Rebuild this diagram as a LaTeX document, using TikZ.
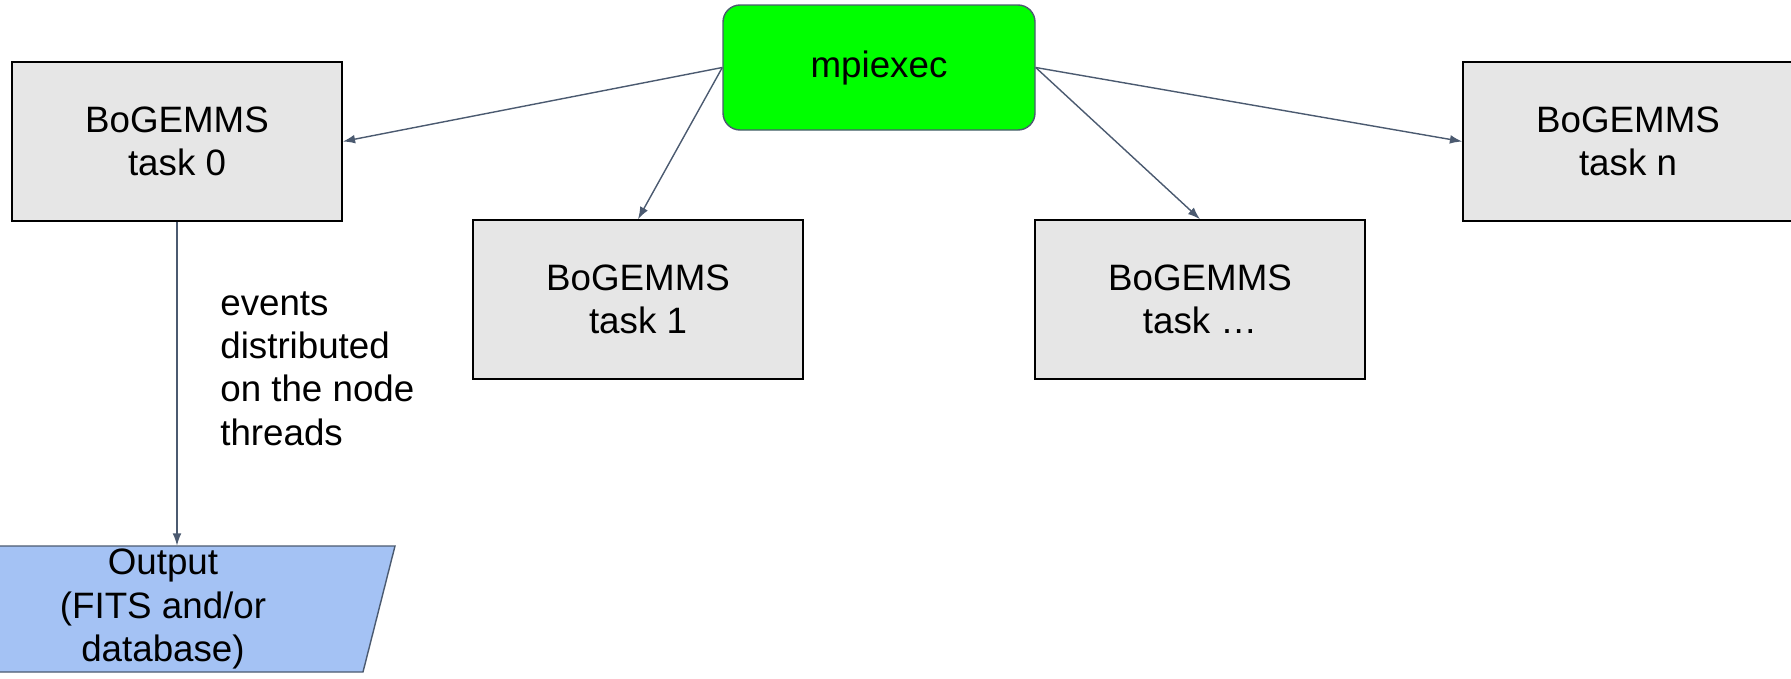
\documentclass[tikz,border=0pt]{standalone}
\usepackage{fontspec}
\setmainfont{Liberation Sans}
\usepackage{tikz}
\usetikzlibrary{positioning, arrows.meta, calc}

\definecolor{taskGray}{HTML}{E6E6E6}
\definecolor{mpiGreen}{HTML}{00FF00}
\definecolor{outBlue}{HTML}{A4C2F4}
\definecolor{lineSlate}{HTML}{4B5A70}

\tikzset{
	taskbox/.style={draw=black, line width=0.9pt, fill=taskGray, minimum width=6.6cm, minimum height=3.18cm, align=center, inner sep=0pt},
	launcher/.style={draw=lineSlate, line width=0.8pt, fill=mpiGreen, rounded corners=0.34cm, minimum width=6.24cm, minimum height=2.5cm, inner sep=0pt},
	outfile/.style={draw=lineSlate, line width=0.8pt, fill=outBlue},
	spawn/.style={draw=lineSlate, line width=0.8pt, -{Latex[length=7pt,width=5pt]}}
}

\begin{document}
\begin{tikzpicture}[font=\fontsize{20.9}{24.5}\selectfont]
		
		%Frame of the picture
		\useasboundingbox (0,0) rectangle (35.82,-13.56);
		\clip (0,0) rectangle (35.82,-13.56);
		
		%The launcher
		\node (mpiexec) at (17.58,-1.35) [launcher]{mpiexec};
		
		%The tasks
		\node (task0) at (3.54,-2.83) [taskbox]{BoGEMMS\\task 0};
		\node (task1) at (12.76,-5.99) [taskbox]{BoGEMMS\\task 1};
		\node (taskdots) at (24.0,-5.99) [taskbox]{BoGEMMS\\task \ldots};
		\node (taskn) at (32.56,-2.83) [taskbox]{BoGEMMS\\task n};
		
		%Output file (slanted, cut by the left border)
		\draw[outfile] (-0.74,-10.92) -- (7.9,-10.92) -- (7.26,-13.44) -- (-1.38,-13.44) -- cycle;
		\node (output) at (3.26,-12.18) [minimum height=2.52cm, inner sep=0pt, align=center]{Output\\(FITS and/or\\database)};
		
		%Arrows from mpiexec
		\draw[spawn] (mpiexec.west) -- (task0.east);
		\draw[spawn] (mpiexec.west) -- (task1.north);
		\draw[spawn] (mpiexec.east) -- (taskdots.north);
		\draw[spawn] (mpiexec.east) -- (taskn.west);
		
		%Arrow to the output
		\draw[spawn] (task0.south) -- (task0.south |- output.north);
		
		%Label of the arrow
		\node (events) at (4.4,-8.9) [anchor=base west, align=left, inner sep=0pt]{events\\distributed\\on the node\\threads};
		
\end{tikzpicture}
\end{document}
